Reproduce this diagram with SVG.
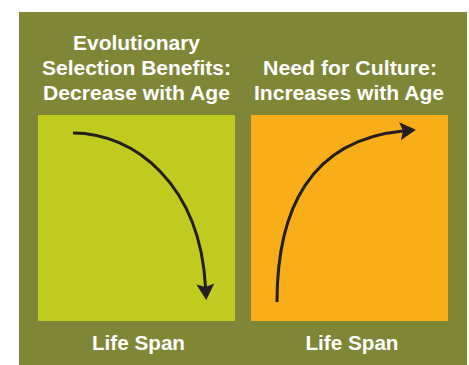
<svg xmlns="http://www.w3.org/2000/svg" width="469" height="365" viewBox="0 0 469 365">
  <style>
    .label { font-family: "Liberation Sans", Arial, sans-serif; font-weight: bold; font-size: 19.5px; fill: #ffffff; text-anchor: middle; }
    .curve { fill: none; stroke: #231f20; stroke-width: 3; stroke-linecap: butt; }
  </style>
  <defs>
    <marker id="head" markerUnits="userSpaceOnUse" markerWidth="20" markerHeight="20" refX="0" refY="0" orient="auto" overflow="visible">
      <path d="M13,0 L-3,-9 L0,0 L-3,9 Z" fill="#231f20"/>
    </marker>
  </defs>

  <!-- panel background -->
  <rect x="19" y="12" width="448" height="353" fill="#7f8635"/>

  <g id="selection">
    <text class="label" x="136.5" y="50" textLength="127" lengthAdjust="spacingAndGlyphs">Evolutionary</text>
    <text class="label" x="136.5" y="75" textLength="189" lengthAdjust="spacingAndGlyphs">Selection Benefits:</text>
    <text class="label" x="136.5" y="100" textLength="187" lengthAdjust="spacingAndGlyphs">Decrease with Age</text>
    <rect x="38" y="115" width="197" height="206" fill="#c1ca1f"/>
    <text class="label" x="138.5" y="350" textLength="93" lengthAdjust="spacingAndGlyphs">Life Span</text>
  </g>

  <g id="culture">
    <text class="label" x="350" y="75" textLength="174" lengthAdjust="spacingAndGlyphs">Need for Culture:</text>
    <text class="label" x="349" y="100" textLength="190" lengthAdjust="spacingAndGlyphs">Increases with Age</text>
    <rect x="251" y="115" width="197" height="206" fill="#f9ae19"/>
    <text class="label" x="352" y="350" textLength="93" lengthAdjust="spacingAndGlyphs">Life Span</text>
  </g>

  <g id="connectors">
    <path class="curve" d="M73,133 C135,133 200,185 205.5,287" marker-end="url(#head)"/>
    <path class="curve" d="M277,302 C277,210 310,140 403,131" marker-end="url(#head)"/>
  </g>
</svg>
